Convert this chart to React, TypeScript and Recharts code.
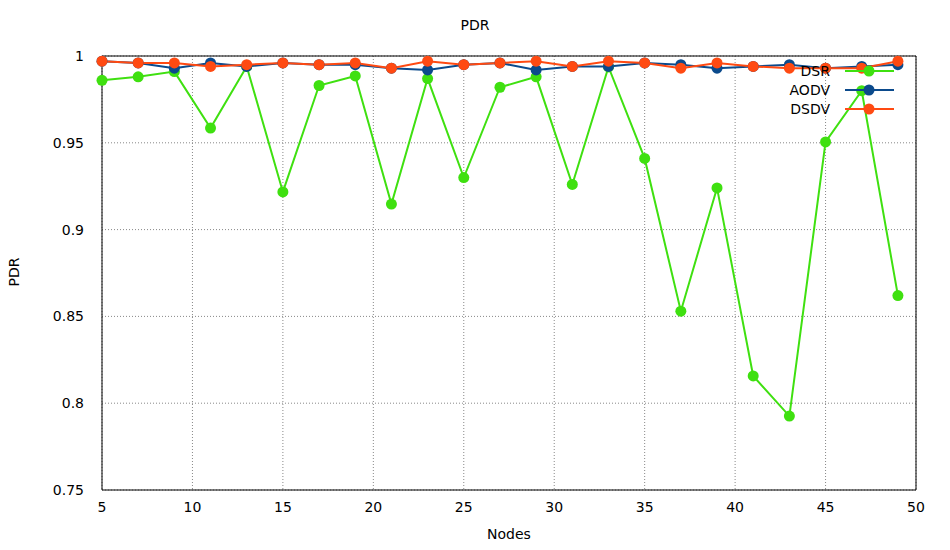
import React from 'react';
import {
  LineChart, Line, XAxis, YAxis, CartesianGrid, ReferenceLine,
} from 'recharts';

const nodes = [5, 7, 9, 11, 13, 15, 17, 19, 21, 23, 25, 27, 29, 31, 33, 35, 37, 39, 41, 43, 45, 47, 49];
const dsr = [0.986, 0.988, 0.991, 0.9585, 0.994, 0.9217, 0.983, 0.9885, 0.9147, 0.987, 0.930, 0.982, 0.988, 0.926, 0.9937, 0.941, 0.853, 0.924, 0.8157, 0.7926, 0.9505, 0.980, 0.862];
const aodv = [0.997, 0.996, 0.993, 0.996, 0.994, 0.996, 0.995, 0.995, 0.993, 0.992, 0.995, 0.996, 0.992, 0.994, 0.994, 0.996, 0.995, 0.993, 0.994, 0.995, 0.993, 0.994, 0.995];
const dsdv = [0.997, 0.996, 0.996, 0.994, 0.995, 0.996, 0.995, 0.996, 0.993, 0.997, 0.995, 0.996, 0.997, 0.994, 0.997, 0.996, 0.993, 0.996, 0.994, 0.993, 0.993, 0.993, 0.997];
const xTicks = [5, 10, 15, 20, 25, 30, 35, 40, 45, 50];
const yTicks = [0.75, 0.8, 0.85, 0.9, 0.95, 1];

const series = [
  { key: 'DSR', color: '#3fe010' },
  { key: 'AODV', color: '#0b4a8c' },
  { key: 'DSDV', color: '#ff4a12' },
];

const data = nodes.map((n, i) => ({ n, DSR: dsr[i], AODV: aodv[i], DSDV: dsdv[i] }));

const font = 'DejaVu Sans, sans-serif';

export default function App() {
  return (
    <div style={{ position: 'absolute', left: 0, top: 0, width: 950, height: 550, background: '#fff', fontFamily: font }}>
      <div style={{ position: 'absolute', top: 17, width: 950, textAlign: 'center', fontSize: 14 }}>PDR</div>
      <div style={{ position: 'absolute', left: 0, top: 264, transform: 'rotate(-90deg)', fontSize: 14 }}>PDR</div>
      <div style={{ position: 'absolute', left: 102, width: 814, top: 526, textAlign: 'center', fontSize: 14 }}>Nodes</div>
      <LineChart width={950} height={550} data={data} margin={{ top: 56, right: 34, bottom: 30, left: 0 }}>
        <CartesianGrid stroke="#888" strokeDasharray="1 2" horizontalValues={yTicks} verticalValues={xTicks} />
        <XAxis dataKey="n" type="number" domain={[5, 50]} ticks={xTicks} interval={0} height={30}
          tick={{ fontSize: 14, fill: '#000', fontFamily: font }} tickLine={false} axisLine={{ stroke: '#000' }} tickMargin={6} />
        <YAxis type="number" domain={[0.75, 1]} ticks={yTicks} width={102} interval={0}
          tickFormatter={(v: number) => String(Number(v.toFixed(2)))}
          tick={{ fontSize: 14, fill: '#000', fontFamily: font }} tickLine={false} axisLine={{ stroke: '#000' }} tickMargin={12} />
        <ReferenceLine y={1} stroke="#000" />
        <ReferenceLine x={50} stroke="#000" />
        {series.map((s) => (
          <Line key={s.key} dataKey={s.key} stroke={s.color} strokeWidth={2} isAnimationActive={false}
            dot={{ r: 5.5, fill: s.color, stroke: s.color, strokeWidth: 0 }} />
        ))}
      </LineChart>
      <svg width={200} height={60} style={{ position: 'absolute', left: 700, top: 63 }}>
        {series.map((s, i) => (
          <g key={s.key}>
            <text x={130} y={13 + i * 19} textAnchor="end" fontSize={14} fontFamily={font} fill="#000">{s.key}</text>
            <line x1={145} x2={194} y1={8 + i * 19} y2={8 + i * 19} stroke={s.color} strokeWidth={2} />
            <circle cx={169} cy={8 + i * 19} r={5.5} fill={s.color} />
          </g>
        ))}
      </svg>
    </div>
  );
}
